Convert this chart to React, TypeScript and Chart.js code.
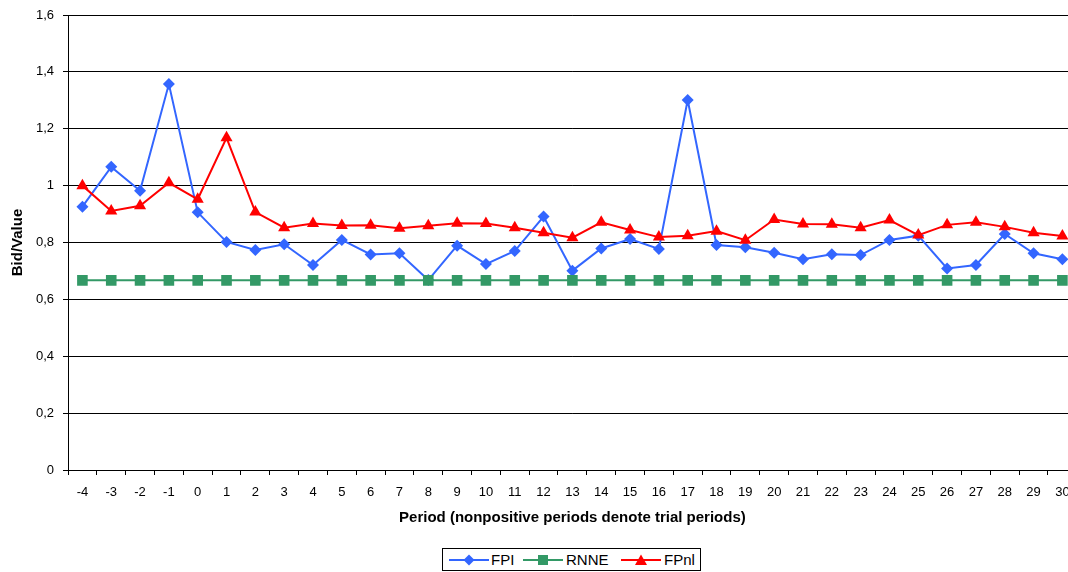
import { useRef, useEffect } from "react";
import { Chart, registerables } from "chart.js";

Chart.register(...registerables);

const periods = [
  "-4", "-3", "-2", "-1", "0", "1", "2", "3", "4", "5", "6", "7", "8", "9", "10", "11", "12",
  "13", "14", "15", "16", "17", "18", "19", "20", "21", "22", "23", "24", "25", "26", "27", "28", "29", "30",
];

const fpiValues = [
  0.926, 1.066, 0.982, 1.357, 0.906, 0.802, 0.774, 0.794, 0.721, 0.809, 0.758, 0.762, 0.668, 0.789,
  0.724, 0.77, 0.891, 0.701, 0.779, 0.812, 0.777, 1.301, 0.791, 0.783, 0.764, 0.741, 0.759, 0.756,
  0.809, 0.824, 0.709, 0.721, 0.83, 0.762, 0.741,
];

const rnneValues = [
  0.667, 0.667, 0.667, 0.667, 0.667, 0.667, 0.667, 0.667, 0.667, 0.667, 0.667, 0.667, 0.667, 0.667,
  0.667, 0.667, 0.667, 0.667, 0.667, 0.667, 0.667, 0.667, 0.667, 0.667, 0.667, 0.667, 0.667, 0.667,
  0.667, 0.667, 0.667, 0.667, 0.667, 0.667, 0.667,
];

const fpnlValues = [
  1.0, 0.911, 0.929, 1.01, 0.952, 1.168, 0.907, 0.852, 0.867, 0.86, 0.861, 0.85, 0.859, 0.868,
  0.867, 0.852, 0.834, 0.817, 0.871, 0.844, 0.819, 0.824, 0.84, 0.808, 0.881, 0.865, 0.864, 0.852,
  0.879, 0.826, 0.862, 0.871, 0.855, 0.834, 0.823,
];

const FONT = "'Liberation Sans', Arial, sans-serif";

// 1.6 -> "1,6", 1 -> "1", 0 -> "0"
const formatTick = (v: number) => {
  if (v === 0) return "0";
  if (Math.abs(v - 1) < 1e-9) return "1";
  return v.toFixed(1).replace(".", ",");
};

const LegendIcon = ({ color, marker }: { color: string; marker: string }) => (
  <svg width="40" height="12" style={{ display: "block" }}>
    <line x1="0" y1="6" x2="40" y2="6" stroke={color} strokeWidth="2" />
    {marker === "diamond" && <polygon points="20,0.5 25.5,6 20,11.5 14.5,6" fill={color} />}
    {marker === "square" && <rect x="15" y="1" width="10" height="10" fill={color} />}
    {marker === "triangle" && <polygon points="20,0.5 26,11 14,11" fill={color} />}
  </svg>
);

const BidChart = () => {
  const chartRef = useRef<HTMLCanvasElement>(null);
  const chartInstance = useRef<Chart | null>(null);

  useEffect(() => {
    document.body.style.margin = "0";
    if (!chartRef.current) return;
    if (chartInstance.current) chartInstance.current.destroy();
    const ctx = chartRef.current.getContext("2d");
    if (!ctx) return;

    chartInstance.current = new Chart(ctx, {
      type: "line",
      data: {
        labels: periods,
        datasets: [
          {
            label: "FPI",
            data: fpiValues,
            borderColor: "#3366FF",
            backgroundColor: "#3366FF",
            borderWidth: 2,
            pointStyle: "rectRot",
            pointRadius: 6,
            pointBorderWidth: 0,
            tension: 0,
            order: 3,
          },
          {
            label: "RNNE",
            data: rnneValues,
            borderColor: "#339966",
            backgroundColor: "#339966",
            borderWidth: 2,
            pointStyle: "rect",
            pointRadius: 7.5,
            pointBorderWidth: 0,
            tension: 0,
            order: 2,
          },
          {
            label: "FPnl",
            data: fpnlValues,
            borderColor: "#FF0000",
            backgroundColor: "#FF0000",
            borderWidth: 2,
            pointStyle: "triangle",
            pointRadius: 7,
            pointBorderWidth: 0,
            tension: 0,
            order: 1,
          },
        ],
      },
      options: {
        responsive: true,
        maintainAspectRatio: false,
        animation: false,
        // plot area runs past the right edge of the picture, like the original
        layout: { autoPadding: false, padding: { left: 0, top: 15, right: 3.2, bottom: 0 } },
        plugins: {
          legend: { display: false },
          tooltip: { enabled: false },
        },
        scales: {
          x: {
            offset: true,
            afterFit: (scale) => {
              scale.height = 70;
              scale.paddingLeft = 0;
              scale.paddingRight = 0;
            },
            grid: {
              offset: true,
              drawOnChartArea: false,
              drawTicks: true,
              tickLength: 5,
              tickColor: "#000",
            },
            border: { display: true, color: "#000", width: 1 },
            ticks: {
              color: "#000",
              padding: 10,
              maxRotation: 0,
              autoSkip: false,
              font: { family: FONT, size: 13 },
            },
            title: {
              display: true,
              text: "Period (nonpositive periods denote trial periods)",
              color: "#000",
              padding: { top: 0, bottom: 13 },
              font: { family: FONT, size: 15, weight: "bold" },
            },
          },
          y: {
            min: 0,
            max: 1.6,
            afterFit: (scale) => {
              scale.width = 68;
              scale.paddingTop = 0;
              scale.paddingBottom = 0;
            },
            grid: {
              color: "#000",
              lineWidth: 1,
              drawTicks: true,
              tickLength: 5,
              tickColor: "#000",
            },
            border: { display: true, color: "#000", width: 1 },
            ticks: {
              stepSize: 0.2,
              color: "#000",
              padding: 9,
              font: { family: FONT, size: 13 },
              callback: (v) => formatTick(Number(v)),
            },
            title: {
              display: true,
              text: "Bid/Value",
              color: "#000",
              padding: { top: 9, bottom: 0 },
              font: { family: FONT, size: 15, weight: "bold" },
            },
          },
        },
      },
    });

    return () => {
      if (chartInstance.current) {
        chartInstance.current.destroy();
        chartInstance.current = null;
      }
    };
  }, []);

  const legendText = {
    position: "absolute" as const,
    top: 1,
    fontFamily: FONT,
    fontSize: 15,
    lineHeight: "20px",
    color: "#000",
  };
  const legendIcon = { position: "absolute" as const, top: 5 };

  return (
    <div style={{ position: "relative", width: 1068, height: 572, overflow: "hidden", background: "#fff" }}>
      <div style={{ position: "absolute", left: 0, top: 0, width: 1080, height: 540 }}>
        <canvas ref={chartRef} role="img" aria-label="Bid/Value by period line chart"></canvas>
      </div>
      <div
        style={{
          position: "absolute",
          left: 442,
          top: 548,
          width: 257,
          height: 21,
          border: "1px solid #000",
          boxSizing: "content-box",
        }}
      >
        <div style={{ ...legendIcon, left: 6 }}><LegendIcon color="#3366FF" marker="diamond" /></div>
        <span style={{ ...legendText, left: 48 }}>FPI</span>
        <div style={{ ...legendIcon, left: 80 }}><LegendIcon color="#339966" marker="square" /></div>
        <span style={{ ...legendText, left: 123 }}>RNNE</span>
        <div style={{ ...legendIcon, left: 178 }}><LegendIcon color="#FF0000" marker="triangle" /></div>
        <span style={{ ...legendText, left: 221 }}>FPnl</span>
      </div>
    </div>
  );
};

export default function App() {
  return <BidChart />;
}
